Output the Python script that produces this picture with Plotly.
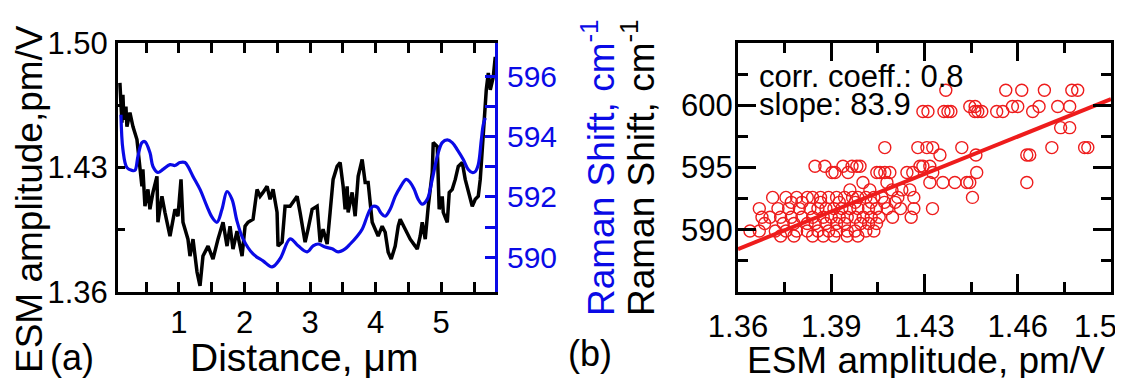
import plotly.graph_objects as go

# ---------------- Panel (a): line profiles ----------------
esm_distance = [0.099, 0.115, 0.130, 0.145, 0.160, 0.191, 0.206, 0.252, 0.298, 0.359, 0.405, 0.435, 0.450,
                0.481, 0.527, 0.557, 0.603, 0.664, 0.679, 0.740, 0.786, 0.863, 0.939, 0.985, 1.031, 1.061,
                1.137, 1.168, 1.214, 1.275, 1.321, 1.366, 1.443, 1.519, 1.595, 1.672, 1.733, 1.779, 1.824,
                1.885, 1.962, 2.008, 2.053, 2.130, 2.191, 2.237, 2.282, 2.344, 2.389, 2.435, 2.496, 2.511,
                2.573, 2.618, 2.695, 2.802, 2.847, 2.924, 2.969, 3.031, 3.107, 3.153, 3.198, 3.260, 3.305,
                3.351, 3.412, 3.458, 3.504, 3.534, 3.565, 3.580, 3.641, 3.687, 3.733, 3.794, 3.840, 3.885,
                3.947, 3.992, 4.038, 4.099, 4.145, 4.191, 4.237, 4.298, 4.344, 4.374, 4.450, 4.527, 4.603,
                4.634, 4.679, 4.710, 4.756, 4.802, 4.863, 4.878, 4.939, 4.969, 5.015, 5.031, 5.092, 5.122,
                5.168, 5.214, 5.260, 5.321, 5.366, 5.412, 5.473, 5.519, 5.565, 5.595, 5.641, 5.687, 5.718,
                5.748, 5.794, 5.824]
esm_profile = [1.4776, 1.4625, 1.4552, 1.4709, 1.4569, 1.4642, 1.4530, 1.4608, 1.4530, 1.4457, 1.4289, 1.4194,
               1.4289, 1.4082, 1.4177, 1.4065, 1.4160, 1.4250, 1.3992, 1.4138, 1.4048, 1.3914, 1.4065, 1.4026,
               1.4233, 1.3992, 1.3897, 1.3802, 1.3897, 1.3712, 1.3634, 1.3802, 1.3858, 1.3785, 1.3897, 1.3992,
               1.3858, 1.3970, 1.3841, 1.3942, 1.3802, 1.3970, 1.3992, 1.4009, 1.4177, 1.4138, 1.4160, 1.4194,
               1.4121, 1.4177, 1.4048, 1.3858, 1.3880, 1.4082, 1.4082, 1.4138, 1.4048, 1.3880, 1.3953, 1.4065,
               1.4082, 1.3880, 1.3953, 1.3869, 1.4048, 1.4233, 1.4306, 1.4328, 1.4194, 1.4065, 1.4194, 1.4048,
               1.4160, 1.4026, 1.4250, 1.4345, 1.4216, 1.4216, 1.3992, 1.3953, 1.3914, 1.3970, 1.3936, 1.3824,
               1.3785, 1.3858, 1.3970, 1.4009, 1.3953, 1.3897, 1.3858, 1.3841, 1.3914, 1.3992, 1.3897, 1.4082,
               1.4272, 1.4440, 1.4418, 1.4065, 1.4138, 1.4048, 1.3992, 1.4160, 1.4177, 1.4233, 1.4306, 1.4328,
               1.4233, 1.4160, 1.4082, 1.4121, 1.4138, 1.4233, 1.4513, 1.4737, 1.4832, 1.4737, 1.4810, 1.4922]

raman_distance = [0.115, 0.145, 0.206, 0.282, 0.328, 0.374, 0.435, 0.481, 0.557, 0.603, 0.679, 0.756, 0.863,
                  0.939, 1.015, 1.092, 1.137, 1.214, 1.321, 1.427, 1.504, 1.580, 1.656, 1.733, 1.809, 1.885,
                  1.977, 2.130, 2.282, 2.420, 2.542, 2.695, 2.817, 2.954, 3.046, 3.122, 3.229, 3.336, 3.427,
                  3.534, 3.611, 3.718, 3.794, 3.870, 3.916, 3.962, 4.023, 4.084, 4.145, 4.221, 4.298, 4.374,
                  4.466, 4.527, 4.588, 4.649, 4.710, 4.786, 4.863, 4.939, 5.015, 5.092, 5.168, 5.244, 5.336,
                  5.412, 5.473, 5.519, 5.565, 5.611, 5.641, 5.672]
raman_profile = [594.72, 593.57, 592.97, 592.88, 592.88, 593.34, 593.80, 593.83, 593.47, 593.01, 592.81, 592.91,
                 593.07, 593.04, 593.14, 593.14, 593.01, 592.68, 592.25, 591.69, 591.33, 591.16, 591.59, 592.18,
                 591.92, 591.20, 590.61, 590.11, 589.88, 589.68, 589.95, 590.61, 590.38, 590.18, 590.38, 590.44,
                 590.34, 590.28, 590.18, 590.28, 590.44, 590.70, 590.93, 591.36, 591.59, 591.69, 591.66, 591.46,
                 591.36, 591.59, 592.02, 592.32, 592.58, 592.48, 592.25, 591.92, 591.76, 591.92, 592.58, 593.34,
                 593.80, 593.89, 593.80, 593.57, 593.24, 592.91, 592.81, 592.84, 593.07, 593.89, 594.39, 594.62]

dist_tickvals = [1, 2, 3, 4, 5]
dist_minor = [0.5, 1.5, 2.5, 3.5, 4.5, 5.5]
esm_tickvals = [1.36, 1.43, 1.50]
esm_minor = [1.395, 1.465]
raman_a_tickvals = [590, 592, 594, 596]
raman_a_minor = [591, 593, 595]

# ---------------- Panel (b): scatter ----------------
scatter_esm = [
    1.438, 1.4605, 1.4665, 1.475, 1.4853, 1.4875,
    1.447, 1.449, 1.463, 1.465, 1.473, 1.480, 1.4845,
    1.4294, 1.4313, 1.4373, 1.4388, 1.4399, 1.4489, 1.4500, 1.4515, 1.4571, 1.4594, 1.4706,
    1.4811, 1.4845,
    1.4151, 1.4275, 1.4309, 1.4331, 1.4440, 1.4778, 1.4901, 1.4913,
    1.4358, 1.4493, 1.4684, 1.4695,
    1.3889, 1.3926, 1.3994, 1.4028, 1.4046, 1.4058, 1.4283, 1.4294, 1.4320,
    1.3953, 1.3964, 1.4013, 1.4121, 1.4133, 1.4151, 1.4170, 1.4234, 1.4256, 1.4331, 1.4496,
    1.4069, 1.4159, 1.4320, 1.4369, 1.4414, 1.4459, 1.4470, 1.4684,
    1.4020, 1.4095, 1.4178, 1.4215, 1.4245,
    1.373, 1.378, 1.382, 1.386, 1.388, 1.391, 1.394, 1.397, 1.400, 1.403, 1.405, 1.408, 1.411, 1.414, 1.420, 1.426, 1.448,
    1.380, 1.384, 1.391, 1.398, 1.404, 1.410, 1.415, 1.419,
    1.368, 1.375, 1.379, 1.383, 1.387, 1.390, 1.393, 1.396, 1.399, 1.402, 1.405, 1.409, 1.412, 1.416, 1.421, 1.426, 1.433,
    1.369, 1.372, 1.376, 1.380, 1.384, 1.388, 1.392, 1.395, 1.398, 1.401, 1.404, 1.407, 1.410, 1.413, 1.418, 1.425,
    1.370, 1.377, 1.381, 1.386, 1.389, 1.393, 1.397, 1.400, 1.406, 1.409, 1.412,
    1.3645, 1.368, 1.374, 1.378, 1.382, 1.386, 1.390, 1.394, 1.397, 1.401, 1.404, 1.408, 1.411,
    1.376, 1.381, 1.388, 1.392, 1.396, 1.401, 1.405,
]
scatter_raman = (
    [601.2] * 6 + [599.9] * 7 + [599.5] * 11 + [598.2] * 2 + [596.6] * 8 + [596.0] * 4 +
    [595.1] * 9 + [594.6] * 11 + [593.8] * 8 + [593.2] * 5 + [592.6] * 17 + [592.2] * 8 +
    [591.7] * 17 + [591.0] * 16 + [590.5] * 11 + [589.9] * 13 + [589.5] * 7
)
fit_esm = [1.36, 1.50]
fit_raman = [588.45, 600.5]

esm_b_tickvals = [1.36, 1.395, 1.43, 1.465]
esm_b_ticktext = ["1.36", "1.39", "1.43", "1.46"]
esm_b_last_label = "1.5"   # last tick label, drawn nudged left like the original
esm_b_minor = [1.3775, 1.4125, 1.4475, 1.4825]
raman_b_tickvals = [590, 595, 600]
raman_b_minor = [587.5, 592.5, 597.5, 602.5]

# page body has an 8px margin: draw the figure 8px smaller and map screen px to it
OFF = 8
W, H = 1123 - OFF, 378 - OFF
FONT = "Liberation Sans, Arial, sans-serif"
BLUE = "#0a0ae6"
RED = "#ee1c1c"

def px_x(p):
    return (p - OFF) / W

def px_y(p):
    return 1 - (p - OFF) / H

fig = go.Figure()
fig.add_trace(go.Scatter(x=esm_distance, y=esm_profile, mode="lines",
                         line=dict(color="black", width=3.5), xaxis="x", yaxis="y"))
fig.add_trace(go.Scatter(x=raman_distance, y=raman_profile, mode="lines",
                         line=dict(color=BLUE, width=3.2, shape="spline"), xaxis="x", yaxis="y2"))
fig.add_trace(go.Scatter(x=scatter_esm, y=scatter_raman, mode="markers",
                         marker=dict(symbol="circle-open", size=12, color=RED, line=dict(width=1.4, color=RED)),
                         xaxis="x2", yaxis="y3"))
fig.add_trace(go.Scatter(x=fit_esm, y=fit_raman, mode="lines",
                         line=dict(color=RED, width=4), xaxis="x2", yaxis="y3"))

ax_common = dict(showline=True, linewidth=3, linecolor="black", showgrid=False, zeroline=False,
                 ticks="inside", tickwidth=2.5, tickcolor="black", automargin=False,
                 ticklabeloverflow="allow",
                 tickfont=dict(family=FONT, size=31, color="black"))

ya_dom = [px_y(292), px_y(43)]

fig.update_layout(
    width=W, height=H, margin=dict(l=0, r=0, t=0, b=0, autoexpand=False),
    paper_bgcolor="white", plot_bgcolor="white", showlegend=False,
    xaxis=dict(**ax_common, domain=[px_x(118), px_x(495)], range=[0.07, 5.82], anchor="y",
               mirror="allticks", ticklen=10, tickmode="array", tickvals=dist_tickvals,
               minor=dict(tickvals=dist_minor, ticklen=10, tickwidth=2.5, ticks="inside", tickcolor="black"),
               ticklabelstandoff=1),
    yaxis=dict(**ax_common, domain=ya_dom, range=[1.36, 1.50], anchor="x", mirror=False,
               ticklen=7, tickmode="array", tickvals=esm_tickvals, tickformat=".2f",
               minor=dict(tickvals=esm_minor, ticklen=7, tickwidth=2.5, ticks="inside", tickcolor="black"),
               ticklabelstandoff=1),
    yaxis2=dict(showline=True, linewidth=3, linecolor=BLUE, showgrid=False, zeroline=False,
                ticks="inside", tickwidth=2.5, tickcolor=BLUE, ticklen=10, automargin=False,
                ticklabeloverflow="allow",
                tickfont=dict(family=FONT, size=30, color=BLUE),
                overlaying="y", side="right", anchor="x", range=[588.85, 597.1],
                tickmode="array", tickvals=raman_a_tickvals,
                minor=dict(tickvals=raman_a_minor, ticklen=10, tickwidth=2.5, ticks="inside", tickcolor=BLUE),
                ticklabelstandoff=3),
    xaxis2=dict(**ax_common, domain=[px_x(738), px_x(1111)], range=[1.36, 1.50], anchor="y3",
                mirror="allticks", ticklen=18, tickmode="array", tickvals=esm_b_tickvals, ticktext=esm_b_ticktext,
                minor=dict(tickvals=esm_b_minor, ticklen=10, tickwidth=2.5, ticks="inside", tickcolor="black"),
                ticklabelstandoff=5),
    yaxis3=dict(**ax_common, domain=ya_dom, range=[585, 605], anchor="x2", mirror="allticks",
                ticklen=18, tickmode="array", tickvals=raman_b_tickvals,
                minor=dict(tickvals=raman_b_minor, ticklen=10, tickwidth=2.5, ticks="inside", tickcolor="black"),
                ticklabelstandoff=-4),
)

ann = []
def add(text, x, y, size, color="black", angle=0, xanchor="center"):
    ann.append(dict(text=text, x=px_x(x), y=px_y(y), xref="paper", yref="paper", showarrow=False,
                    textangle=angle, xanchor=xanchor, yanchor="middle",
                    font=dict(family=FONT, size=size, color=color)))

add("ESM amplitude,pm/V", 30, 199, 37, angle=-90)
add("(a)", 72, 357, 36)
add("Distance, \u03bcm", 304, 357, 39)
add("Raman Shift, cm<sup>-1</sup>", 598, 168, 37, color=BLUE, angle=-90)
add("Raman Shift, cm<sup>-1</sup>", 638, 168, 37, angle=-90)
add("(b)", 590, 353, 36)
add("ESM amplitude, pm/V", 926, 360, 37)
add("corr. coeff.: 0.8", 757, 76, 31, xanchor="left")
add("slope: 83.9", 757, 104, 31, xanchor="left")
add(esm_b_last_label, 1072, 326, 31, xanchor="left")
fig.update_layout(annotations=ann)

fig.write_html("out.html")
